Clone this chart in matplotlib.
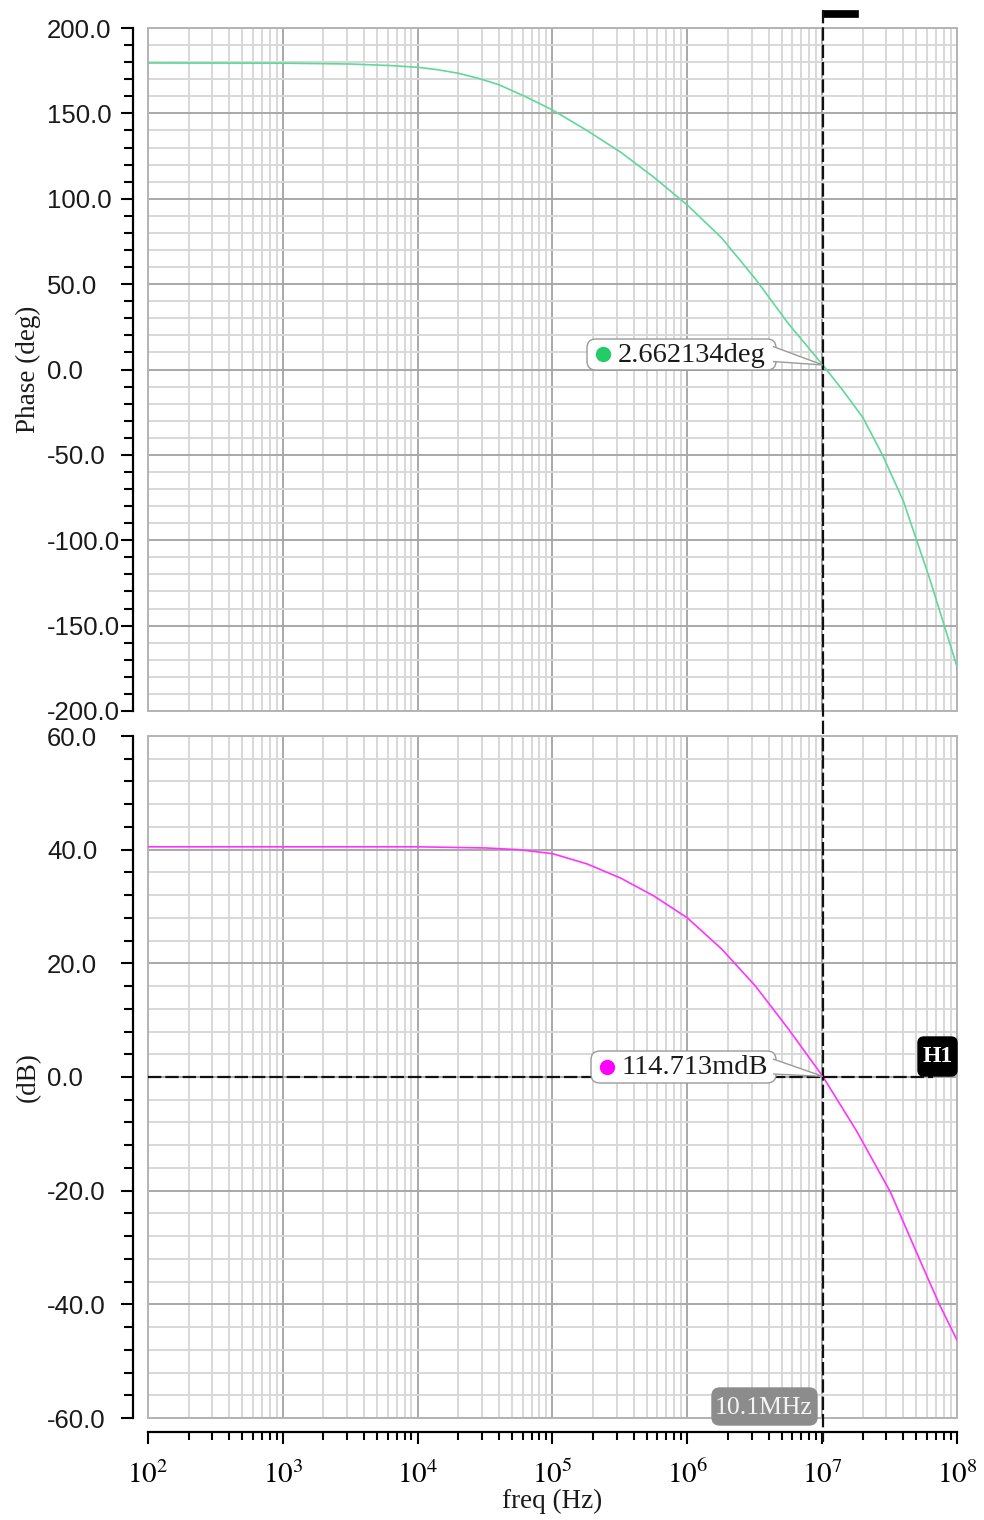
import numpy as np
import matplotlib
matplotlib.use('Agg')
import matplotlib.pyplot as plt
from matplotlib.patches import FancyBboxPatch, Polygon, Rectangle
from matplotlib.lines import Line2D
from matplotlib.transforms import blended_transform_factory

plt.rcParams['mathtext.fontset'] = 'stix'

# values (AC response of an amplifier)
phase_freq = [1e2, 1e3, 3.2e3, 6.3e3, 1e4, 1.4e4, 2e4, 2.8e4, 4e4, 6.3e4, 1e5,
              1.8e5, 3.2e5, 5.6e5, 1e6, 1.8e6, 3.2e6, 5.6e6, 1.01e7,
              1.4e7, 2e7, 2.8e7, 4e7, 6.3e7, 1e8]
phase_deg = [179.5, 179.4, 178.9, 178.0, 177.0, 175.6, 173.5, 170.6, 166.8, 159.8, 152.0,
             140.0, 127.3, 112.8, 96.3, 77.0, 53.0, 27.0, 2.66,
             -11.5, -28.0, -50.0, -77.0, -123.0, -174.0]

gain_freq = [1e2, 1e3, 1e4, 3.2e4, 5.6e4, 1e5, 1.8e5, 3.2e5, 5.6e5, 1e6,
             1.8e6, 3.2e6, 5.6e6, 1.01e7, 1.8e7, 3.2e7, 5.6e7, 7.4e7, 1e8]
gain_db = [40.5, 40.5, 40.5, 40.3, 40.0, 39.3, 37.5, 35.0, 31.9, 28.0,
           22.5, 16.0, 8.5, 0.11, -9.5, -20.2, -33.5, -40.0, -46.3]

marker_freq = 10.1e6
marker_phase = 2.662134
marker_gain = 0.114713
phase_text = '2.662134deg'
gain_text = '114.713mdB'
freq_text = '10.1MHz'

phase_ticks = [-200, -150, -100, -50, 0, 50, 100, 150, 200]
gain_ticks = [-60, -40, -20, 0, 20, 40, 60]
decades = [2, 3, 4, 5, 6, 7, 8]

W, H = 984, 1520
PT = 0.72  # points per pixel at dpi 100


def fx(x):
    return x / W


def fy(y):
    return 1 - y / H


fig = plt.figure(figsize=(W / 100, H / 100), dpi=100)
ax1 = fig.add_axes([fx(148), fy(711), (957 - 148) / W, (711 - 28) / H])
ax2 = fig.add_axes([fx(148), fy(1418), (957 - 148) / W, (1418 - 736) / H])

serif = 'Liberation Serif'
ink = '#1a1a1a'

for ax, ticks, minor in ((ax1, phase_ticks, 10), (ax2, gain_ticks, 4)):
    ax.set_xscale('log')
    ax.set_xlim(1e2, 1e8)
    ax.set_ylim(ticks[0], ticks[-1])
    for s in ('top', 'right', 'bottom'):
        ax.spines[s].set_visible(False)
    ax.spines['left'].set_position(('outward', 15 * PT))
    ax.spines['left'].set_linewidth(1.6)
    ax.tick_params(axis='y', which='major', length=12 * PT, width=1.5, pad=74 * PT,
                   labelsize=18.5, labelfontfamily='Liberation Sans', labelcolor=ink)
    ax.tick_params(axis='y', which='minor', length=9 * PT, width=1.5)
    ax.set_yticks(ticks, ['%.1f' % t for t in ticks])
    ax.yaxis.set_minor_locator(matplotlib.ticker.MultipleLocator(minor))
    for lab in ax.get_yticklabels():
        lab.set_horizontalalignment('left')
    ax.set_axisbelow(True)
    ax.grid(which='major', color='#a8a8a8', lw=1.4)
    ax.grid(which='minor', color='#d8d8d8', lw=1.4)
    ax.add_patch(Rectangle((0, 0), 1, 1, transform=ax.transAxes, fill=False,
                           ec='#b4b4b4', lw=1.4, clip_on=False, zorder=1))

ax1.tick_params(axis='x', which='both', bottom=False, labelbottom=False)

ax2.spines['bottom'].set_visible(True)
ax2.spines['bottom'].set_position(('outward', 14 * PT))
ax2.spines['bottom'].set_linewidth(1.6)
ax2.tick_params(axis='x', which='major', length=12 * PT, width=1.5, pad=12, labelsize=21)
ax2.tick_params(axis='x', which='minor', length=8 * PT, width=1.5)
ax2.set_xticks([10.0 ** d for d in decades], [r'$10^{%d}$' % d for d in decades])

ax1.plot(phase_freq, phase_deg, color='#5fd89a', lw=1.2, zorder=3)
ax2.plot(gain_freq, gain_db, color='#ff33ff', lw=1.2, zorder=3)

ax1.set_ylabel('Phase (deg)', family=serif, size=19.5, color=ink)
ax2.set_ylabel('(dB)', family=serif, size=19.5, color=ink)
ax1.yaxis.set_label_coords(-0.132, 0.5)
ax2.yaxis.set_label_coords(-0.132, 0.5)
ax2.set_xlabel('freq (Hz)', family=serif, size=19.5, color=ink)
ax2.xaxis.set_label_coords(0.5, -0.104)

# vertical marker across both panels
vt = blended_transform_factory(ax2.transData, fig.transFigure)
fig.add_artist(Line2D([marker_freq, marker_freq], [fy(10), fy(1442)], transform=vt,
                      color='#111111', lw=1.6, dashes=(6, 1.8), zorder=5))
fig.add_artist(Rectangle((fx(822), fy(17)), 36 / W, 7 / H, transform=fig.transFigure,
                         fc='black', ec='black', lw=0.5))

# horizontal marker H1
ax2.axhline(0, xmax=0.97, color='#111111', lw=1.6, dashes=(6, 1.8), zorder=4)
fig.add_artist(FancyBboxPatch((fx(918), fy(1076)), 39 / W, 39 / H, transform=fig.transFigure,
                              boxstyle='round,pad=0,rounding_size=0.006',
                              mutation_aspect=W / H, fc='black', ec='black', zorder=6))
fig.text(fx(937.5), fy(1057), 'H1', ha='center', va='center', family=serif,
         weight='bold', size=17, color='white', zorder=7)


def callout(ax, fval, yval, box, dot, color, text):
    x0, y0, x1, y1 = box
    tip = fig.transFigure.inverted().transform(ax.transData.transform((fval, yval)))
    fig.add_artist(FancyBboxPatch((fx(x0), fy(y1)), (x1 - x0) / W, (y1 - y0) / H,
                                  transform=fig.transFigure,
                                  boxstyle='round,pad=0,rounding_size=0.009',
                                  mutation_aspect=W / H, fc='white', ec='#9a9a9a',
                                  lw=1.0, zorder=7))
    ym = (y0 + y1) / 2
    fig.add_artist(Polygon([(fx(x1 - 3), fy(ym - 8)), tuple(tip), (fx(x1 - 3), fy(ym + 7))],
                           closed=False, transform=fig.transFigure, fc='white',
                           ec='#9a9a9a', lw=1.0, zorder=7))
    fig.add_artist(Line2D([fx(dot[0])], [fy(dot[1])], marker='o', ms=10, color=color,
                          transform=fig.transFigure, zorder=8))
    fig.text(fx(dot[0] + 15), fy(ym + 1), text, ha='left', va='center', family=serif,
             size=20.5, color=ink, zorder=8)


callout(ax1, marker_freq, marker_phase, (587, 339, 776, 370), (603, 354), '#22cc66', phase_text)
callout(ax2, marker_freq, marker_gain, (591, 1051, 776, 1083), (607, 1067), '#ff00ff', gain_text)

# frequency readout at the bottom of the marker
fig.add_artist(FancyBboxPatch((fx(712), fy(1425)), 105 / W, 37 / H, transform=fig.transFigure,
                              boxstyle='round,pad=0,rounding_size=0.008',
                              mutation_aspect=W / H, fc='#8c8c8c', ec='#8c8c8c', zorder=7))
fig.text(fx(764), fy(1408), freq_text, ha='center', va='center', family=serif,
         size=18.5, color='#f4f4f4', zorder=8)

fig.savefig('out.png', dpi=100, facecolor='white')
